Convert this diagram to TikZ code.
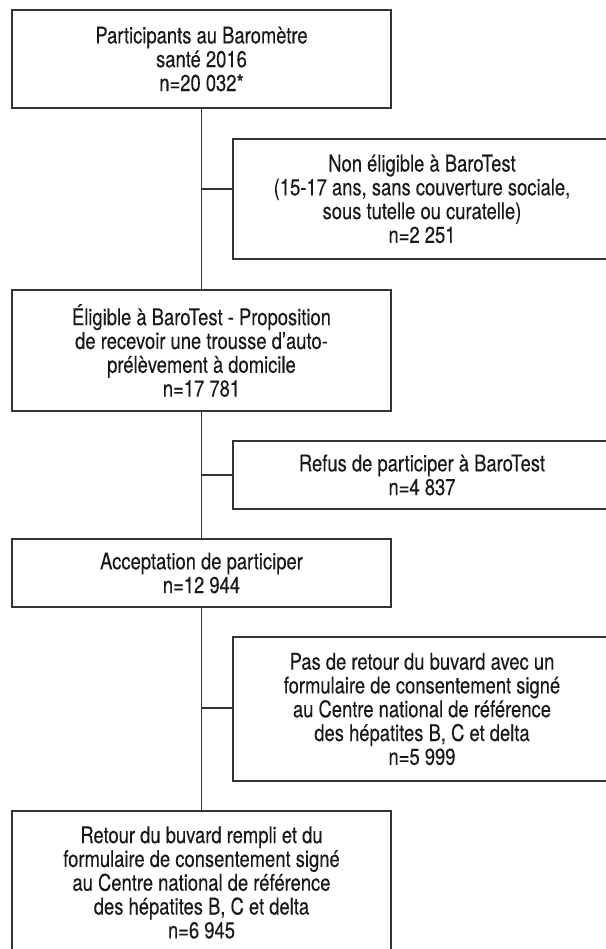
\documentclass[tikz,border=0pt]{standalone}
\usepackage{fontspec}
\setmainfont{TeX Gyre Heros}[FakeStretch=0.8,FakeBold=0.2]
\begin{document}
\begin{tikzpicture}[x=1pt,y=-1pt,
  box/.style={draw=black!80, line width=1.3pt, rectangle, inner sep=0pt, outer sep=0pt,
    align=center, font=\fontsize{23}{23.8}\selectfont, text=black!90},
  link/.style={draw=black!80, line width=1.3pt}]
\useasboundingbox (0,0) rectangle (605,949);
\node[box, minimum width=379pt, minimum height=98pt] (b1) at (201.5,59)
  {Participants au Baromètre\\santé 2016\\n=20 032*};
\node[box, minimum width=378pt, minimum height=120pt] (r1) at (422,199)
  {Non éligible à BaroTest\\(15-17 ans, sans couverture sociale,\\sous tutelle ou curatelle)\\n=2 251};
\node[box, minimum width=379pt, minimum height=121pt] (b2) at (201.5,350.5)
  {Éligible à BaroTest - Proposition\\de recevoir une trousse d’auto-\\prélèvement à domicile\\n=17 781};
\node[box, minimum width=378pt, minimum height=68pt] (r2) at (422,475)
  {Refus de participer à BaroTest\\n=4 837};
\node[box, minimum width=379pt, minimum height=68pt] (b3) at (201.5,573)
  {Acceptation de participer\\n=12 944};
\node[box, minimum width=378pt, minimum height=144pt] (r3) at (422,709)
  {Pas de retour du buvard avec un\\formulaire de consentement signé\\au Centre national de référence\\des hépatites B, C et delta\\n=5 999};
\node[box, minimum width=379pt, minimum height=143pt] (b4) at (201.5,882.5)
  {Retour du buvard rempli et du\\formulaire de consentement signé\\au Centre national de référence\\des hépatites B, C et delta\\n=6 945};
\coordinate (j1) at (202,189);
\coordinate (j2) at (202,475);
\coordinate (j3) at (202,708);
\draw[link] (b1.south) -- (b2.north);
\draw[link] (b2.south) -- (b3.north);
\draw[link] (b3.south) -- (b4.north);
\draw[link] (j1) -- (j1 -| r1.west);
\draw[link] (j2) -- (j2 -| r2.west);
\draw[link] (j3) -- (j3 -| r3.west);
\end{tikzpicture}
\end{document}
